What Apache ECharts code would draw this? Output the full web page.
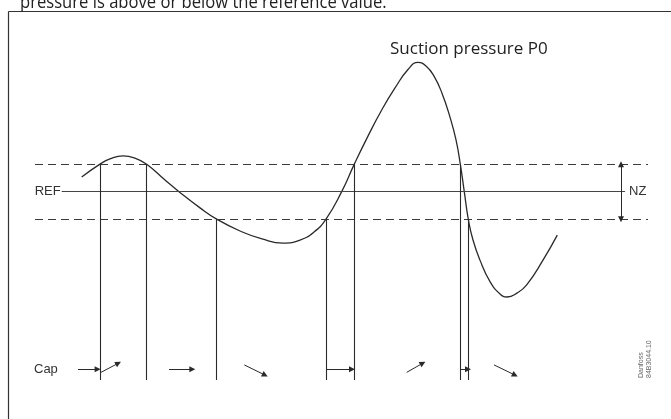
<!DOCTYPE html>
<html><head><meta charset="utf-8">
<script src="https://cdn.jsdelivr.net/npm/echarts@6/dist/echarts.min.js"></script>
<style>html,body{margin:0;padding:0;background:#fff;overflow:hidden}#c{width:671px;height:419px}</style>
</head><body><div id="c"></div>
<script>
// Suction pressure P0 over time (pressure relative to REF, in units of half neutral zone)
const time     = [7.62, 10.6, 12.23, 14.36, 16.31, 18.22, 21.21, 23.49, 26.92, 29.64, 33.44, 37.03, 40.46, 43.23, 45.51, 47.47, 50.03, 52.09, 54.32, 56.56, 58.73, 60.85, 62.48, 63.78, 65.09, 66.39, 67.7, 68.68, 69.38, 70.03, 70.68, 71.45, 72.59, 74.23, 75.86, 77.0, 78.63, 80.21, 82.87, 85.2];
const pressure = [0.53, 1.0, 1.19, 1.3, 1.22, 1.0, 0.42, 0.0, -0.59, -1.0, -1.43, -1.72, -1.87, -1.76, -1.47, -1.0, 0.0, 1.0, 2.02, 2.97, 3.77, 4.44, 4.7, 4.57, 4.2, 3.58, 2.71, 1.88, 1.0, 0.0, -1.0, -1.76, -2.49, -3.27, -3.72, -3.83, -3.69, -3.39, -2.49, -1.58];

const refLevel = 0;
const nzUpper = 1;
const nzLower = -1;
const refLineSpan = [4.36, 96.25];
const nzArrowTime = 95.6;

// switching instants where the curve leaves / enters the neutral zone
const switchTimes  = [10.6, 18.22, 29.64, 47.47, 52.09, 69.38, 70.68];
const switchLevels = [1, 1, -1, -1, 1, 1, -1];
const switchLineEnd = -6.85;

// capacity change arrows: [t0, v0, t1, v1]
const capArrows = [
  [7.01, -6.46, 10.22, -6.46],
  [10.77, -6.57, 13.59, -6.24],
  [21.86, -6.46, 25.66, -6.46],
  [34.14, -6.30, 37.52, -6.67],
  [47.63, -6.46, 51.71, -6.46],
  [60.64, -6.57, 63.25, -6.24],
  [69.49, -6.46, 70.64, -6.46],
  [74.88, -6.30, 78.30, -6.67]
];
const capLabelLevel = -6.46;

const chart = echarts.init(document.getElementById('c'), null, {renderer: 'canvas'});
const dark = '#2a2a2a';
const mlBase = {silent: true, animation: false, label: {show: false}, emphasis: {disabled: true}};

chart.setOption({
  animation: false,
  backgroundColor: '#fff',
  grid: {left: 35, right: 23, top: 26.65, bottom: 7.35},
  xAxis: {type: 'value', min: 0, max: 100, show: false},
  yAxis: {type: 'value', min: -8, max: 6, show: false},
  series: [
    {
      type: 'line', name: 'P0', smooth: 0.5, symbol: 'none', silent: true,
      data: time.map((t, i) => [t, pressure[i]]),
      lineStyle: {color: dark, width: 1.3}
    },
    {
      type: 'line', data: [], symbol: 'none',
      markLine: Object.assign({}, mlBase, {
        symbol: ['none', 'none'],
        data: [
          {yAxis: nzUpper, lineStyle: {color: '#3a3a3a', width: 1, type: [8, 5]}},
          {yAxis: nzLower, lineStyle: {color: '#3a3a3a', width: 1, type: [8, 5]}},
          [{coord: [refLineSpan[0], refLevel], lineStyle: {color: '#444', width: 1.2, type: 'solid'}}, {coord: [refLineSpan[1], refLevel]}]
        ].concat(switchTimes.map((t, i) => [
          {coord: [t, switchLevels[i]], lineStyle: {color: dark, width: 1.1, type: 'solid'}},
          {coord: [t, switchLineEnd]}
        ]))
      })
    },
    {
      type: 'line', data: [], symbol: 'none',
      markLine: Object.assign({}, mlBase, {
        symbol: ['triangle', 'triangle'], symbolSize: 6,
        lineStyle: {color: dark, width: 1, type: 'solid'},
        data: [[{coord: [nzArrowTime, nzUpper]}, {coord: [nzArrowTime, nzLower]}]]
      })
    },
    {
      type: 'line', data: [], symbol: 'none',
      markLine: Object.assign({}, mlBase, {
        symbol: ['none', 'triangle'], symbolSize: 6,
        lineStyle: {color: dark, width: 1, type: 'solid'},
        data: capArrows.map(a => [{coord: [a[0], a[1]]}, {coord: [a[2], a[3]]}])
      })
    }
  ]
});

const refPx = chart.convertToPixel({gridIndex: 0}, [refLineSpan[0], refLevel]);
const nzPx = chart.convertToPixel({gridIndex: 0}, [refLineSpan[1], refLevel]);
const capPx = chart.convertToPixel({gridIndex: 0}, [0, capLabelLevel]);
const labelFont = '13px "Liberation Sans", Arial, sans-serif';

chart.setOption({
  graphic: [
    {type: 'line', silent: true, shape: {x1: 8.5, y1: 11.5, x2: 8.5, y2: 430}, style: {stroke: '#333', lineWidth: 1.2}},
    {type: 'line', silent: true, shape: {x1: 8.5, y1: 11.5, x2: 680, y2: 11.5}, style: {stroke: '#333', lineWidth: 1.2}},
    {type: 'text', silent: true, x: 20, y: 12, scaleX: 0.874, style: {text: 'pressure is above or below the reference value.', font: '19px "Open Sans", sans-serif', fill: '#222', verticalAlign: 'bottom'}},
    {type: 'text', silent: true, x: 390, y: 58, style: {text: 'Suction pressure P0', font: '17px "Open Sans", sans-serif', fill: '#222', verticalAlign: 'bottom'}},
    {type: 'text', silent: true, x: refPx[0] - 1, y: refPx[1], style: {text: 'REF', font: labelFont, fill: '#333', align: 'right', verticalAlign: 'middle'}},
    {type: 'text', silent: true, x: nzPx[0] + 4, y: nzPx[1], style: {text: 'NZ', font: labelFont, fill: '#333', align: 'left', verticalAlign: 'middle'}},
    {type: 'text', silent: true, x: capPx[0] - 1, y: capPx[1], style: {text: 'Cap', font: labelFont, fill: '#333', align: 'left', verticalAlign: 'middle'}},
    {type: 'text', silent: true, x: 637, y: 378, rotation: Math.PI / 2, style: {text: 'Danfoss\n84B3044.10', font: '7px "Liberation Sans", Arial, sans-serif', fill: '#666', align: 'left', verticalAlign: 'top', lineHeight: 8}}
  ]
});
</script>
</body></html>
